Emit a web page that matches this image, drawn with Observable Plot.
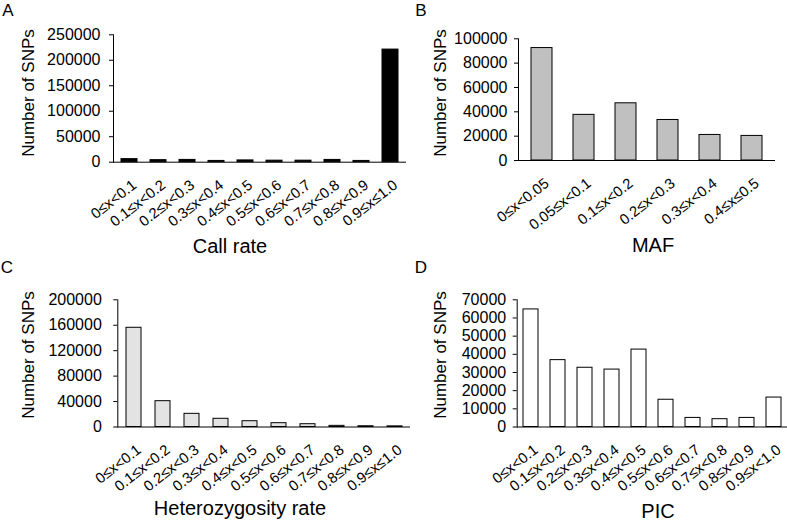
<!DOCTYPE html>
<html><head><meta charset="utf-8">
<script src="https://cdn.jsdelivr.net/npm/d3@7"></script>
<script src="https://cdn.jsdelivr.net/npm/@observablehq/plot@0.6"></script>
<style>
body{margin:0;background:#fff;font-family:"Liberation Sans",Arial,sans-serif;}
#root{position:relative;width:787px;height:523px;overflow:hidden;background:#fff;}
.panel{position:absolute;}
.panel svg{overflow:visible;}
.lbl{position:absolute;color:#000;white-space:nowrap;transform:translate(-50%,-50%);line-height:1;}
.ylab{position:absolute;color:#000;white-space:nowrap;transform:translate(-50%,-50%) rotate(-90deg);font-size:17px;line-height:1;}
</style></head><body><div id="root"></div>
<script>
// Panel A: Call rate
const callRateCats = ["0≤x<0.1","0.1≤x<0.2","0.2≤x<0.3","0.3≤x<0.4","0.4≤x<0.5","0.5≤x<0.6","0.6≤x<0.7","0.7≤x<0.8","0.8≤x<0.9","0.9≤x≤1.0"];
const callRateValues = [6000, 4000, 4500, 2500, 3500, 3000, 3000, 4500, 2500, 221000];
const callRateTicks = [0, 50000, 100000, 150000, 200000, 250000];
// Panel B: MAF
const mafCats = ["0≤x<0.05","0.05≤x<0.1","0.1≤x<0.2","0.2≤x<0.3","0.3≤x<0.4","0.4≤x≤0.5"];
const mafValues = [92400, 37500, 47000, 33300, 21000, 20200];
const mafTicks = [0, 20000, 40000, 60000, 80000, 100000];
// Panel C: Heterozygosity rate
const hetCats = ["0≤x<0.1","0.1≤x<0.2","0.2≤x<0.3","0.3≤x<0.4","0.4≤x<0.5","0.5≤x<0.6","0.6≤x<0.7","0.7≤x<0.8","0.8≤x<0.9","0.9≤x≤1.0"];
const hetValues = [156000, 40600, 20700, 12900, 9100, 6000, 4400, 1800, 1200, 1000];
const hetTicks = [0, 40000, 80000, 120000, 160000, 200000];
// Panel D: PIC
const picCats = ["0≤x<0.1","0.1≤x<0.2","0.2≤x<0.3","0.3≤x<0.4","0.4≤x<0.5","0.5≤x<0.6","0.6≤x<0.7","0.7≤x<0.8","0.8≤x<0.9","0.9≤x<1.0"];
const picValues = [64700, 36800, 32600, 31600, 42600, 15000, 5000, 4300, 5000, 16200];
const picTicks = [0, 10000, 20000, 30000, 40000, 50000, 60000, 70000];

const root = document.getElementById("root");
const FONT = "'Liberation Sans', Arial, sans-serif";

function addPanel(o) {
  const data = o.cats.map((c, i) => ({cat: c, value: o.values[i]}));
  const chart = Plot.plot({
    width: o.width, height: o.height,
    marginLeft: o.mL, marginRight: o.mR, marginTop: o.mT, marginBottom: o.mB,
    style: {fontFamily: FONT, background: "transparent", color: "#000"},
    x: {domain: o.cats, paddingInner: o.pad, paddingOuter: o.pad / 2, label: null},
    y: {domain: [0, o.ticks[o.ticks.length - 1]], label: null},
    marks: [
      Plot.barY(data, {x: "cat", y: "value", fill: o.fill, stroke: "#000", strokeWidth: 1}),
      Plot.ruleY([0], {stroke: "#000", strokeWidth: 1}),
      Plot.frame({anchor: "left", stroke: "#000", strokeWidth: 1}),
      Plot.axisY({ticks: o.ticks, tickSize: 4, tickPadding: o.tp, tickFormat: d3.format("d"), fontSize: 16, fontFamily: FONT, label: null}),
      Plot.axisX({tickSize: 0, tickRotate: -38, tickPadding: 21, dx: 5, fontSize: 14.8, fontFamily: FONT, label: null})
    ]
  });
  const div = document.createElement("div");
  div.className = "panel";
  div.style.left = o.left + "px";
  div.style.top = o.top + "px";
  div.appendChild(chart);
  root.appendChild(div);
}

function addText(cls, text, x, y, size) {
  const d = document.createElement("div");
  d.className = cls;
  d.textContent = text;
  d.style.left = x + "px";
  d.style.top = y + "px";
  if (size) d.style.fontSize = size + "px";
  root.appendChild(d);
}

addPanel({cats: callRateCats, values: callRateValues, ticks: callRateTicks, fill: "#000",
  left: 0, top: 0, width: 410, height: 260, mL: 113, mR: 4, mT: 34.3, mB: 98.3, pad: 0.45, tp: 9});
addPanel({cats: mafCats, values: mafValues, ticks: mafTicks, fill: "#c0c0c0",
  left: 390, top: 0, width: 397, height: 260, mL: 128, mR: 12, mT: 38.3, mB: 100, pad: 0.49, tp: 7});
addPanel({cats: hetCats, values: hetValues, ticks: hetTicks, fill: "#e3e3e3",
  left: 0, top: 260, width: 412, height: 263, mL: 117.3, mR: 2, mT: 39.3, mB: 96.5, pad: 0.5, tp: 12});
addPanel({cats: picCats, values: picValues, ticks: picTicks, fill: "#fff",
  left: 390, top: 260, width: 397, height: 263, mL: 126.7, mR: 0, mT: 39.3, mB: 96.5, pad: 0.44, tp: 7});

// panel letters
addText("lbl", "A", 8, 10, 17);
addText("lbl", "B", 421, 10, 17);
addText("lbl", "C", 7, 267, 17);
addText("lbl", "D", 421, 267, 17);
// x-axis titles
addText("lbl", "Call rate", 230, 246, 20);
addText("lbl", "MAF", 653, 245, 20);
addText("lbl", "Heterozygosity rate", 240, 508, 20);
addText("lbl", "PIC", 658, 511, 20);
// y-axis titles
addText("ylab", "Number of SNPs", 28, 93);
addText("ylab", "Number of SNPs", 440, 93);
addText("ylab", "Number of SNPs", 28, 355);
addText("ylab", "Number of SNPs", 440, 355);
</script></body></html>
